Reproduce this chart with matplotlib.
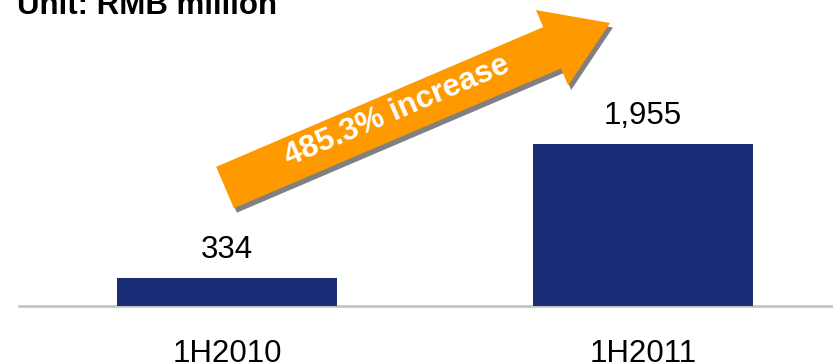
import numpy as np
import matplotlib
matplotlib.use('Agg')
import matplotlib.pyplot as plt
from matplotlib.patches import Polygon

plt.rcParams['font.family'] = ['Liberation Sans', 'DejaVu Sans']

periods = ['1H2010', '1H2011']
profit = [334, 1955]

bar_color = '#1B2D77'
arrow_color = '#FF9900'
shadow_color = '#808080'
fs = 22.5

W, H = 833, 364
fig = plt.figure(figsize=(W / 100, H / 100), dpi=100)

# bar axes: baseline sits 58 px above the bottom edge
ax = fig.add_axes([19 / W, 58 / H, 1 - 19 / W, 306 / H])
x = np.arange(len(periods))
bars = ax.bar(x, profit, width=0.53, color=bar_color, zorder=2)
ax.set_xlim(-0.5, 1.457)
ax.set_ylim(0, max(profit) * 306 / 162.5)

for rect, v in zip(bars, profit):
    ax.annotate(f'{v:,}', (rect.get_x() + rect.get_width() / 2, v),
                xytext=(0, 14.4), textcoords='offset points',
                ha='center', va='baseline', fontsize=fs, color='black')

ax.set_xticks(x)
ax.set_xticklabels(periods, fontsize=fs)
ax.tick_params(axis='x', length=0, pad=24)
ax.set_yticks([])
for side in ['top', 'right', 'left']:
    ax.spines[side].set_visible(False)
ax.spines['bottom'].set_color('#BFBFBF')
ax.spines['bottom'].set_linewidth(1.8)
ax.spines['bottom'].set_zorder(1)

fig.text(17 / W, 1 - 14 / H, 'Unit: RMB million', fontsize=fs,
         fontweight='bold', ha='left', va='baseline')

# growth arrow drawn on a pixel-space overlay
ov = fig.add_axes([0, 0, 1, 1], zorder=5)
ov.set_xlim(0, W)
ov.set_ylim(H, 0)
ov.axis('off')

tail = np.array([225.0, 187.5])
tip = np.array([610.0, 23.0])
d = tip - tail
length = np.hypot(*d)
u = d / length
n = np.array([-u[1], u[0]])
if n[1] < 0:
    n = -n
shaft_hw, head_hw, head_len = 22.5, 41.0, 63.0
base = tail + u * (length - head_len)
pts = np.array([
    tail + n * shaft_hw,
    base + n * shaft_hw,
    base + n * head_hw,
    tip,
    base - n * head_hw,
    base - n * shaft_hw,
    tail - n * shaft_hw,
])
ov.add_patch(Polygon(pts + np.array([3.0, 4.5]), closed=True,
                     facecolor=shadow_color, edgecolor='none'))
ov.add_patch(Polygon(pts, closed=True, facecolor=arrow_color,
                     edgecolor='none'))

growth = (profit[1] / profit[0] - 1) * 100
angle = np.degrees(np.arctan2(-d[1], d[0]))
label_pt = tail + u * 188.5 + n * 5.8
ov.text(label_pt[0], label_pt[1], f'{growth:.1f}% increase', color='white',
        fontsize=fs, fontweight='bold', rotation=angle,
        rotation_mode='anchor', ha='center', va='baseline')

fig.savefig('out.png', dpi=100)
